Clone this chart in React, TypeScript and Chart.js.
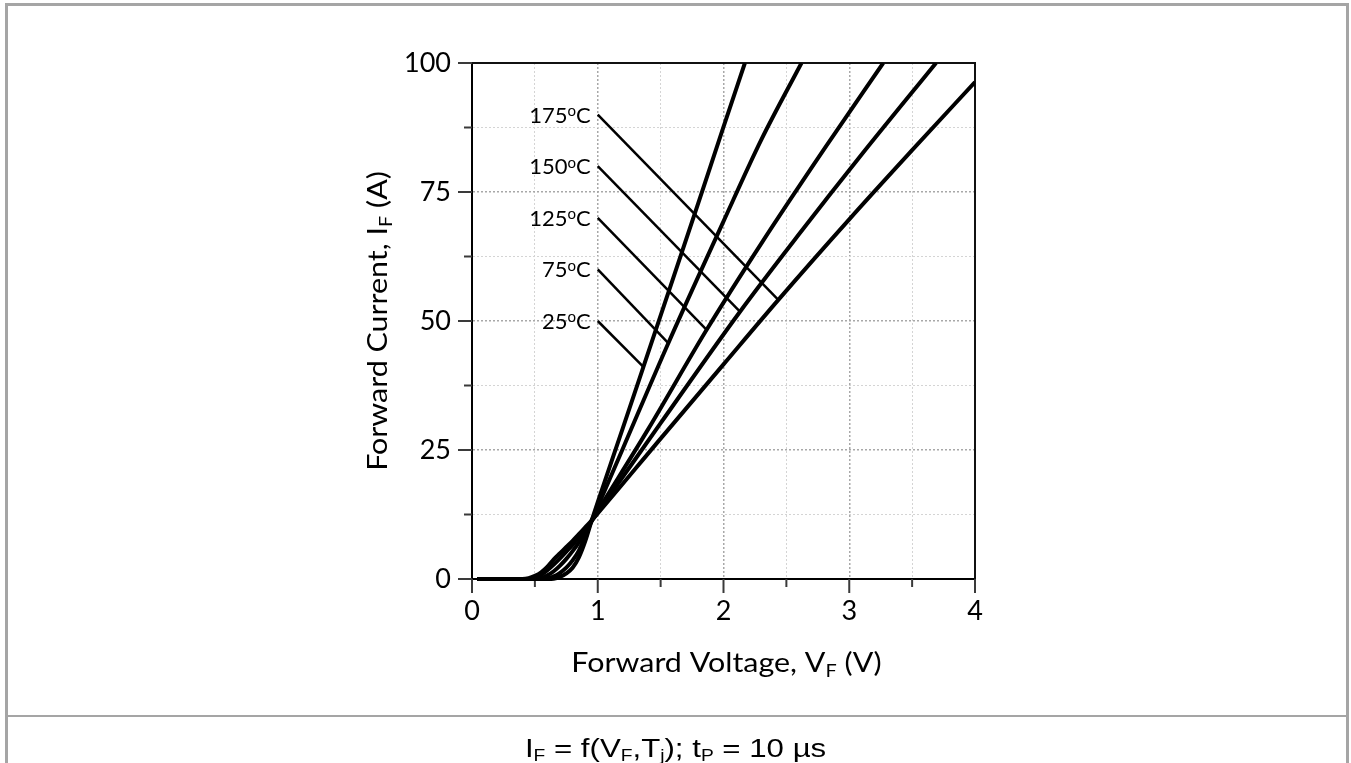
import React, { useEffect, useRef } from "react";
import { Chart, registerables } from "chart.js";
Chart.register(...registerables);

// ---- data ----
const temperatures = ["25", "75", "125", "150", "175"];

const v25 = [0.04, 0.6, 0.65, 0.7, 0.75, 0.8, 0.85, 0.9, 0.95, 1.0, 1.2, 1.363, 1.6, 1.8, 2.0, 2.17];
const i25 = [0, 0, 0.05, 0.4, 1.1, 2.2, 4.2, 7.3, 11.2, 14.9, 29.3, 41.1, 58.3, 72.9, 87.6, 100];

const v75 = [0.04, 0.55, 0.6, 0.65, 0.7, 0.75, 0.8, 0.85, 0.9, 0.95, 1.0, 1.2, 1.561, 2.0, 2.3, 2.62];
const i75 = [0, 0, 0.1, 0.5, 1.2, 2.2, 3.6, 5.5, 8.2, 11.2, 14.0, 25.3, 45.7, 69.3, 85.1, 100];

const v125 = [0.04, 0.5, 0.55, 0.6, 0.65, 0.7, 0.75, 0.8, 0.85, 0.9, 0.95, 1.0, 1.4, 1.866, 2.3, 2.8, 3.27];
const i125 = [0, 0, 0.2, 0.7, 1.5, 2.6, 3.9, 5.4, 7.1, 9.1, 11.2, 13.2, 29.0, 48.3, 65.0, 83.3, 100];

const v150 = [0.04, 0.45, 0.5, 0.55, 0.6, 0.65, 0.7, 0.75, 0.8, 0.85, 0.9, 0.95, 1.0, 1.5, 2.131, 2.6, 3.1, 3.69];
const i150 = [0, 0, 0.3, 0.8, 1.7, 2.8, 4.0, 5.3, 6.6, 8.1, 9.6, 11.2, 12.9, 30.2, 51.8, 66.8, 82.3, 100];

const v175 = [0.04, 0.4, 0.45, 0.5, 0.55, 0.6, 0.65, 0.7, 0.75, 0.8, 0.85, 0.9, 0.95, 1.0, 1.5, 2.0, 2.436, 3.0, 3.5, 4.0];
const i175 = [0, 0, 0.15, 0.6, 1.3, 2.4, 3.8, 5.0, 6.2, 7.4, 8.7, 10.0, 11.3, 12.7, 27.2, 41.6, 54.1, 69.7, 83.1, 96.3];

// leader lines for the temperature labels
const leaderStartV = [1.0, 1.0, 1.0, 1.0, 1.0];
const leaderStartI = [50, 60, 70, 80, 90];
const leaderEndV = [1.363, 1.561, 1.866, 2.131, 2.436];
const leaderEndI = [41.1, 45.7, 48.3, 51.8, 54.1];

const xTickValues = [0, 0.5, 1, 1.5, 2, 2.5, 3, 3.5, 4];
const xTickLabels = ["0", "", "1", "", "2", "", "3", "", "4"];
const yTickValues = [0, 12.5, 25, 37.5, 50, 62.5, 75, 87.5, 100];
const yTickLabels = ["0", "", "25", "", "50", "", "75", "", "100"];

const curveV = [v25, v75, v125, v150, v175];
const curveI = [i25, i75, i125, i150, i175];

const FONT = "Lato, 'Open Sans', sans-serif";

const toPts = (xs: number[], ys: number[]) => xs.map((x, k) => ({ x, y: ys[k] }));

const isMajorX = (v: number) => xTickValues.indexOf(v) >= 0 && xTickLabels[xTickValues.indexOf(v)] !== "";
const isMajorY = (v: number) => yTickValues.indexOf(v) >= 0 && yTickLabels[yTickValues.indexOf(v)] !== "";

function drawSubText(
  ctx: CanvasRenderingContext2D,
  parts: { t: string; sub?: boolean; sup?: boolean }[],
  size: number,
  subSize: number,
  align: "center" | "right",
  x: number,
  y: number
) {
  const widths = parts.map((p) => {
    ctx.font = `${p.sub || p.sup ? subSize : size}px ${FONT}`;
    return ctx.measureText(p.t).width;
  });
  const total = widths.reduce((a, b) => a + b, 0);
  let cx = align === "center" ? x - total / 2 : x - total;
  ctx.textAlign = "left";
  ctx.textBaseline = "alphabetic";
  parts.forEach((p, k) => {
    ctx.font = `${p.sub || p.sup ? subSize : size}px ${FONT}`;
    let dy = 0;
    if (p.sub) dy = size * 0.18;
    if (p.sup) dy = -size * 0.3;
    ctx.fillText(p.t, cx, y + dy);
    cx += widths[k];
  });
}

const TITLE_SIZE = 26;
const TITLE_STRETCH = 1.17;

const decorPlugin = {
  id: "decor",
  beforeDatasetsDraw(chart: any) {
    const { ctx, chartArea, scales } = chart;
    const xs = scales.x;
    const ys = scales.y;
    ctx.save();
    // frame top/right
    ctx.strokeStyle = "#111";
    ctx.lineWidth = 2;
    ctx.beginPath();
    ctx.moveTo(chartArea.left, chartArea.top);
    ctx.lineTo(chartArea.right, chartArea.top);
    ctx.lineTo(chartArea.right, chartArea.bottom);
    ctx.stroke();
    // ticks
    ctx.strokeStyle = "#3a3a3a";
    ctx.lineWidth = 2;
    xTickValues.forEach((v, k) => {
      const px = xs.getPixelForValue(v);
      const len = xTickLabels[k] !== "" ? 14 : 8;
      ctx.beginPath();
      ctx.moveTo(px, chartArea.bottom);
      ctx.lineTo(px, chartArea.bottom + len);
      ctx.stroke();
    });
    yTickValues.forEach((v, k) => {
      const py = ys.getPixelForValue(v);
      const len = yTickLabels[k] !== "" ? 14 : 8;
      ctx.beginPath();
      ctx.moveTo(chartArea.left, py);
      ctx.lineTo(chartArea.left - len, py);
      ctx.stroke();
    });
    ctx.restore();
  },
  afterDraw(chart: any) {
    const { ctx, chartArea, scales } = chart;
    const xs = scales.x;
    const ys = scales.y;
    ctx.save();
    ctx.fillStyle = "#000";
    // temperature labels
    temperatures.forEach((t, k) => {
      const px = xs.getPixelForValue(leaderStartV[k]) - 7;
      const py = ys.getPixelForValue(leaderStartI[k]) + 8;
      drawSubText(ctx, [{ t }, { t: "o", sup: true }, { t: "C" }], 22, 15, "right", px, py);
    });
    // x title
    const cx = (chartArea.left + chartArea.right) / 2;
    ctx.save();
    ctx.translate(cx + 3, chartArea.bottom + 93);
    ctx.scale(TITLE_STRETCH, 1);
    drawSubText(
      ctx,
      [{ t: "Forward Voltage, V" }, { t: "F", sub: true }, { t: " (V)" }],
      TITLE_SIZE,
      17,
      "center",
      0,
      0
    );
    ctx.restore();
    // y title
    ctx.save();
    ctx.translate(chartArea.left - 85, (chartArea.top + chartArea.bottom) / 2);
    ctx.rotate(-Math.PI / 2);
    ctx.scale(TITLE_STRETCH, 1);
    drawSubText(
      ctx,
      [{ t: "Forward Current, I" }, { t: "F", sub: true }, { t: " (A)" }],
      TITLE_SIZE,
      17,
      "center",
      0,
      0
    );
    ctx.restore();
    ctx.restore();
  },
};

export default function App() {
  const ref = useRef<HTMLCanvasElement | null>(null);
  useEffect(() => {
    if (!ref.current) return;
    const curveSets = curveV.map((vs, k) => ({
      label: temperatures[k] + "°C",
      data: toPts(vs, curveI[k]),
      borderColor: "#000",
      borderWidth: 4,
      pointRadius: 0,
      showLine: true,
      fill: false,
      cubicInterpolationMode: "monotone" as const,
      clip: { left: 0, top: 0, right: 0, bottom: 4 },
    }));
    const leaderSets = leaderStartV.map((v, k) => ({
      label: "leader " + temperatures[k],
      data: [
        { x: v, y: leaderStartI[k] },
        { x: leaderEndV[k], y: leaderEndI[k] },
      ],
      borderColor: "#000",
      borderWidth: 2.5,
      pointRadius: 0,
      showLine: true,
      fill: false,
      tension: 0,
    }));
    const chart = new Chart(ref.current, {
      type: "scatter",
      data: { datasets: [...curveSets, ...leaderSets] as any },
      plugins: [decorPlugin as any],
      options: {
        animation: false,
        responsive: false,
        maintainAspectRatio: false,
        layout: { padding: { left: 372, right: 376, top: 63, bottom: 37 } },
        plugins: { legend: { display: false }, tooltip: { enabled: false } },
        scales: {
          x: {
            type: "linear",
            min: 0,
            max: 4,
            afterFit: (s: any) => {
              s.height = 100;
            },
            afterBuildTicks: (s: any) => {
              s.ticks = xTickValues.map((value) => ({ value }));
            },
            ticks: {
              autoSkip: false,
              maxRotation: 0,
              padding: 16,
              color: "#000",
              font: { family: FONT, size: 27 },
              callback: (v: any) => xTickLabels[xTickValues.indexOf(Number(v))] ?? "",
            },
            grid: {
              drawTicks: false,
              color: (c: any) => (c.tick && isMajorX(c.tick.value) ? "#a8a8a8" : "#d4d4d4"),
              lineWidth: (c: any) => (c.tick && isMajorX(c.tick.value) ? 1.5 : 1),
            },
            border: { display: true, color: "#000", width: 2, dash: [2, 2] },
          },
          y: {
            type: "linear",
            min: 0,
            max: 100,
            afterFit: (s: any) => {
              s.width = 100;
            },
            afterBuildTicks: (s: any) => {
              s.ticks = yTickValues.map((value) => ({ value }));
            },
            ticks: {
              autoSkip: false,
              padding: 21,
              color: "#000",
              font: { family: FONT, size: 27 },
              callback: (v: any) => yTickLabels[yTickValues.indexOf(Number(v))] ?? "",
            },
            grid: {
              drawTicks: false,
              color: (c: any) => (c.tick && isMajorY(c.tick.value) ? "#a8a8a8" : "#d4d4d4"),
              lineWidth: (c: any) => (c.tick && isMajorY(c.tick.value) ? 1.5 : 1),
            },
            border: { display: true, color: "#000", width: 2, dash: [2, 2] },
          },
        },
      },
    });
    return () => chart.destroy();
  }, []);

  const subStyle: React.CSSProperties = { fontSize: 16, verticalAlign: "-4px", lineHeight: 0 };
  return (
    <div style={{ position: "absolute", left: 0, top: 0, width: 1351, height: 763, background: "#fff", overflow: "hidden" }}>
      <canvas ref={ref} width={1351} height={716} style={{ position: "absolute", left: 0, top: 0, width: 1351, height: 716 }} />
      <div
        style={{
          position: "absolute",
          left: 5,
          top: 3,
          width: 1338,
          height: 780,
          border: "3px solid #a5a5a5",
          boxSizing: "content-box",
          pointerEvents: "none",
        }}
      />
      <div style={{ position: "absolute", left: 5, top: 715, width: 1344, height: 2, background: "#a5a5a5" }} />
      <div
        style={{
          position: "absolute",
          left: 0,
          top: 733,
          width: 1351,
          textAlign: "center",
          fontFamily: "'Liberation Sans', Arial, sans-serif",
          fontSize: 26,
          lineHeight: "30px",
          color: "#000",
        }}
      >
        <span style={{ display: "inline-block", transform: "scaleX(1.2)", transformOrigin: "center" }}>
          I<span style={subStyle}>F</span> = f(V<span style={subStyle}>F</span>,T<span style={subStyle}>j</span>); t
          <span style={subStyle}>P</span> = 10 µs
        </span>
      </div>
    </div>
  );
}
